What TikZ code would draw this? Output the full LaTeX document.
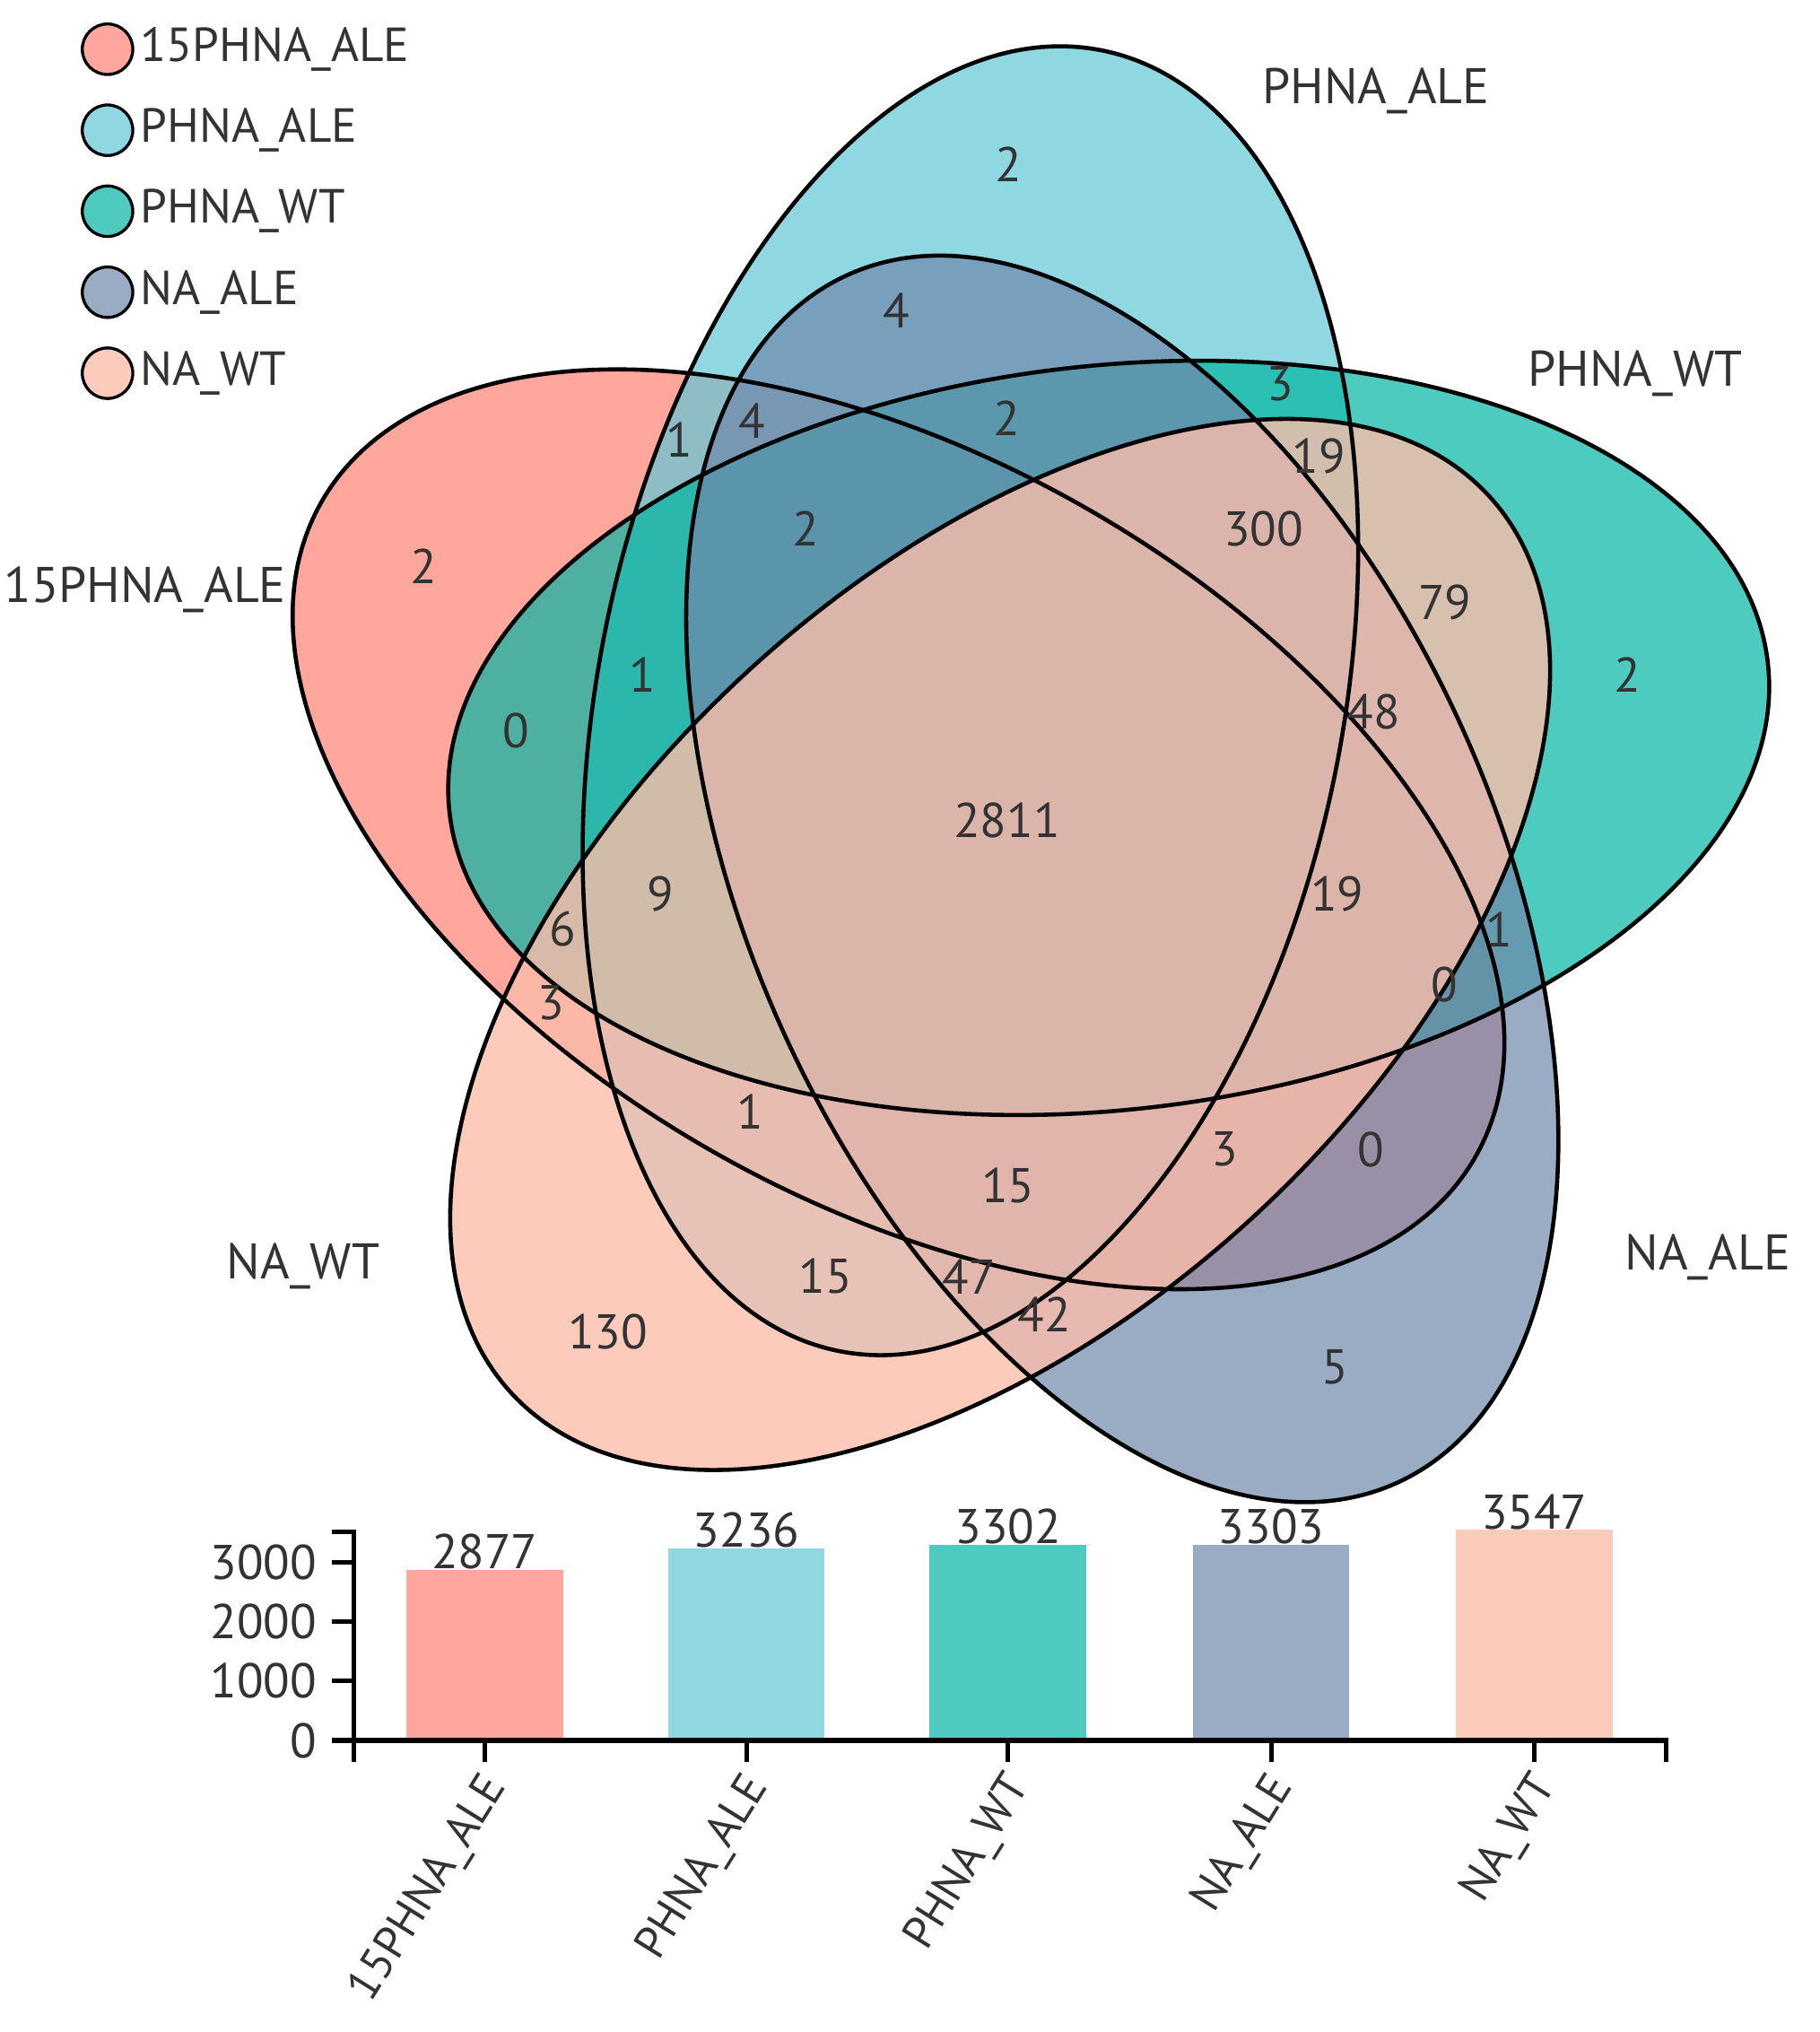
\documentclass[tikz,border=0pt]{standalone}
\usepackage{fontspec}
\setmainfont{PT Sans}
\usepackage{xcolor}
\usepackage{tikz}
\usetikzlibrary{positioning}

\definecolor{txtgray}{RGB}{51,51,51}
\definecolor{cRed}{RGB}{255,166,158}
\definecolor{cCyan}{RGB}{143,216,226}
\definecolor{cTeal}{RGB}{78,203,190}
\definecolor{cBlue}{RGB}{154,171,196}
\definecolor{cPeach}{RGB}{253,203,188}
\definecolor{vRed}{RGB}{255,128,116}
\definecolor{vCyan}{RGB}{95,199,214}
\definecolor{vTeal}{RGB}{2,181,162}
\definecolor{vBlue}{RGB}{111,135,171}
\definecolor{vPeach}{RGB}{252,190,171}

\tikzset{
  num/.style={text=txtgray, font=\fontsize{10.7}{12}\selectfont, inner sep=0pt},
  setlab/.style={text=txtgray, font=\fontsize{11}{13}\selectfont, inner sep=0pt},
  ticklab/.style={text=txtgray, font=\fontsize{10}{12}\selectfont, inner sep=0pt},
  legdot/.style={circle, draw=black, line width=0.65pt, minimum size=0.39cm, inner sep=0pt},
  legtxt/.style={text=txtgray, font=\fontsize{10.5}{12}\selectfont, inner sep=0pt},
  axisline/.style={line width=1pt, line cap=rect},
}

\begin{document}
\begin{tikzpicture}
  \useasboundingbox (0,0) rectangle (14.04,-15.68);

  \coordinate (C) at (7.86,-6.31);
  \foreach \ang/\col/\op/\dx/\dy in {185.5/vRed/0.7/0/0, 113.5/vCyan/0.7/0/0.05, 41.5/vTeal/0.7/0/0,
      329.5/vBlue/0.7/0/0, 257.5/vPeach/0.8/0.06/-0.07}
    \fill[\col, fill opacity=\op, shift={(C)}, shift={(\dx,\dy)}] (\ang:0.93) ellipse [x radius=5.12, y radius=2.87, rotate=\ang-35];
  \foreach \ang/\dx/\dy in {185.5/0/0, 113.5/0/0.05, 41.5/0/0, 329.5/0/0, 257.5/0.06/-0.07}
    \draw[black, line width=0.9pt, shift={(C)}, shift={(\dx,\dy)}] (\ang:0.93) ellipse [x radius=5.12, y radius=2.87, rotate=\ang-35];

  \foreach \x/\y/\v [count=\i] in {778/127/2, 692/240/4, 988/296/3, 524/339/1, 580/325/4, 777/323/2,
      1018/352/19, 327/437/2, 622/408/2, 975/408/300, 1115/465/79, 1256/521/2, 398/564/0,
      496/521/1, 1060/549/48, 777/633/2811, 510/690/9, 1032/690/19, 434/717/6, 1157/717/1,
      1115/760/0, 425/774/3, 579/858/1, 778/915/15, 945/887/3, 1058/887/0, 637/985/15,
      748/985/47, 806/1014/42, 469/1028/130, 1030/1055/5}
    \node[num] (n\i) at (\x/100,-\y/100) {\v};

  \node[setlab] (sPA) at (10.62,-0.70) {PHNA\_ALE};
  \node[setlab] (sPW) at (12.62,-2.88) {PHNA\_WT};
  \node[setlab] (s15) at (1.12,-4.55) {15PHNA\_ALE};
  \node[setlab] (sNW) at (2.34,-9.77) {NA\_WT};
  \node[setlab] (sNA) at (13.18,-9.70) {NA\_ALE};

  \foreach \col/\name/\y [count=\i] in {cRed/15PHNA\_ALE/0.38, cCyan/PHNA\_ALE/1.005, cTeal/PHNA\_WT/1.63,
      cBlue/NA\_ALE/2.255, cPeach/NA\_WT/2.88} {
    \node[legdot, fill=\col] (dot\i) at (0.83,-\y) {};
    \node[legtxt, right=0.04cm of dot\i] (leg\i) {\name};
  }

  \foreach \cx/\val/\col/\name [count=\i] in {3.74/2877/cRed/15PHNA\_ALE, 5.76/3236/cCyan/PHNA\_ALE,
      7.78/3302/cTeal/PHNA\_WT, 9.81/3303/cBlue/NA\_ALE, 11.84/3547/cPeach/NA\_WT} {
    \fill[\col] (\cx-0.605,-13.43) rectangle (\cx+0.605,-13.43+\val*0.000453);
    \node[num, anchor=base] (bv\i) at (\cx,-13.42+\val*0.000453) {\val};
    \draw[axisline] (\cx,-13.43) -- (\cx,-13.58);
    \node[ticklab, anchor=east, rotate=58] (bx\i) at (\cx+0.1,-13.73) {\name};
  }

  \draw[axisline] (2.73,-11.82) -- (2.73,-13.43) -- (12.86,-13.43);
  \draw[axisline] (2.58,-11.82) -- (2.73,-11.82);
  \draw[axisline] (2.73,-13.43) -- (2.73,-13.58);
  \draw[axisline] (12.86,-13.43) -- (12.86,-13.58);
  \foreach \v [count=\i] in {0,1000,2000,3000} {
    \draw[axisline] (2.58,-13.43+\v*0.000453) -- (2.73,-13.43+\v*0.000453);
    \node[num, anchor=east] (yl\i) at (2.45,-13.43+\v*0.000453) {\v};
  }
\end{tikzpicture}
\end{document}
